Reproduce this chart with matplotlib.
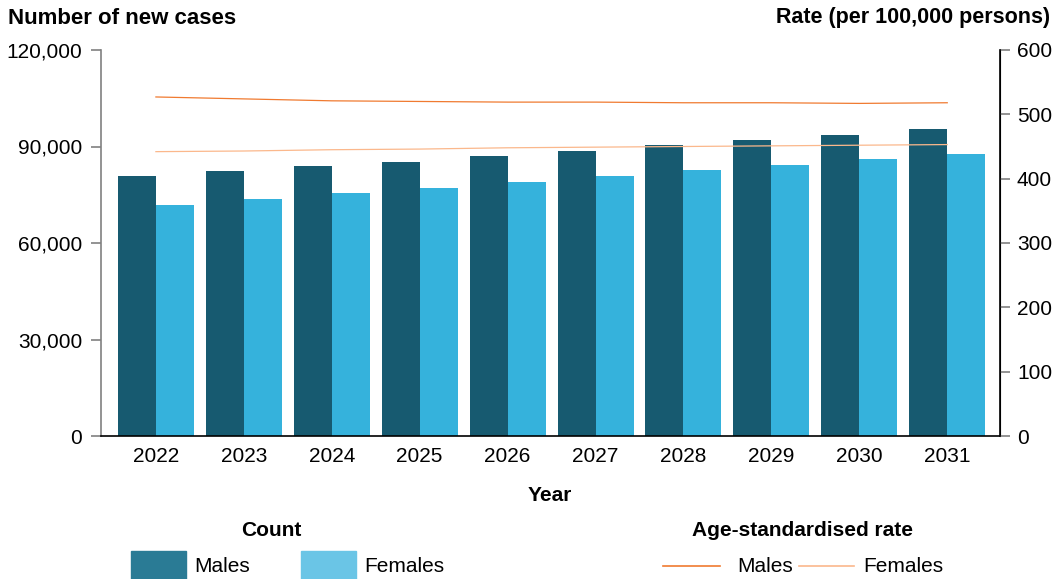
import numpy as np
import matplotlib
matplotlib.use("Agg")
import matplotlib.pyplot as plt
from matplotlib.patches import Rectangle
from matplotlib.lines import Line2D

plt.rcParams['font.family'] = ['Liberation Sans', 'DejaVu Sans']

# data
years = ['2022', '2023', '2024', '2025', '2026', '2027', '2028', '2029', '2030', '2031']
count_males = [80800, 82400, 83900, 85200, 87000, 88600, 90500, 92000, 93600, 95400]
count_females = [71800, 73700, 75500, 77100, 79000, 80800, 82700, 84200, 86100, 87700]
rate_males = [527, 524, 521, 520, 519, 519, 518, 518, 517, 518]
rate_females = [442, 443, 445, 446, 448, 449, 450, 451, 452, 453]

c_male_bar = '#175a70'
c_female_bar = '#35b2dc'
c_male_leg = '#2a7b95'
c_female_leg = '#6ac5e6'
c_male_line = '#f07a30'
c_female_line = '#fbb88c'
grey = '#808080'

W, H = 1058, 579
fig = plt.figure(figsize=(W / 100, H / 100), dpi=100)

def px(x, y):
    # pixel position (from top left) -> figure fraction
    return x / W, 1 - y / H

ax = fig.add_axes([100.5 / W, 1 - 436 / H, (1000 - 100.5) / W, (436 - 50) / H])
x = np.arange(len(years))
bw = 0.432
ax.bar(x - bw / 2, count_males, bw, color=c_male_bar, zorder=2)
ax.bar(x + bw / 2, count_females, bw, color=c_female_bar, zorder=2)
ax.set_xlim(-0.63, 9.60)
ax.set_ylim(0, 120000)
yt = [0, 30000, 60000, 90000, 120000]
ax.set_yticks(yt)
ax.set_yticklabels(['{:,}'.format(v) for v in yt])
ax.set_xticks(x)
ax.set_xticklabels(years)
ax.tick_params(axis='x', length=0, pad=8, labelsize=15)
ax.tick_params(axis='y', length=7.2, width=1.2, color=grey, pad=6, labelsize=15)
ax.spines['top'].set_visible(False)
ax.spines['left'].set_color(grey)
ax.spines['left'].set_linewidth(1.2)
ax.spines['bottom'].set_color('black')
ax.spines['bottom'].set_linewidth(1.2)
ax.spines['right'].set_color('black')
ax.set_xlabel('Year', fontsize=15, fontweight='bold', labelpad=14)

ax2 = ax.twinx()
ax2.plot(x, rate_males, color=c_male_line, lw=0.9, zorder=3)
ax2.plot(x, rate_females, color=c_female_line, lw=0.9, zorder=3)
ax2.set_ylim(0, 600)
ax2.set_yticks(range(0, 601, 100))
ax2.tick_params(axis='y', length=7.2, width=1.2, color=grey, pad=5, labelsize=15)
ax2.spines['top'].set_visible(False)
ax2.spines['left'].set_visible(False)
ax2.spines['bottom'].set_visible(False)
ax2.spines['right'].set_color('black')
ax2.spines['right'].set_linewidth(1.2)

fig.text(*px(8, 18), 'Number of new cases', fontsize=16, fontweight='bold',
         ha='left', va='center')
fig.text(*px(1050, 18), 'Rate (per 100,000 persons)', fontsize=15.5, fontweight='bold',
         ha='right', va='center')

# legend: Count
fig.text(*px(271, 530), 'Count', fontsize=15, fontweight='bold', ha='center', va='center')
for x0, col, lab in [(131, c_male_leg, 'Males'), (301, c_female_leg, 'Females')]:
    fig.add_artist(Rectangle(px(x0, 579), 55 / W, 28 / H, color=col,
                             transform=fig.transFigure))
    fig.text(*px(x0 + 63, 566), lab, fontsize=15, ha='left', va='center')

# legend: Age-standardised rate
fig.text(*px(803, 530), 'Age-standardised rate', fontsize=15, fontweight='bold',
         ha='center', va='center')
for x0, x1, tx, col, lab in [(663, 720, 737, c_male_line, 'Males'),
                             (799, 854, 863, c_female_line, 'Females')]:
    fig.add_artist(Line2D([x0 / W, x1 / W], [1 - 566 / H] * 2, color=col, lw=1.2,
                          transform=fig.transFigure))
    fig.text(*px(tx, 566), lab, fontsize=15, ha='left', va='center')

fig.savefig('out.png', dpi=100)
